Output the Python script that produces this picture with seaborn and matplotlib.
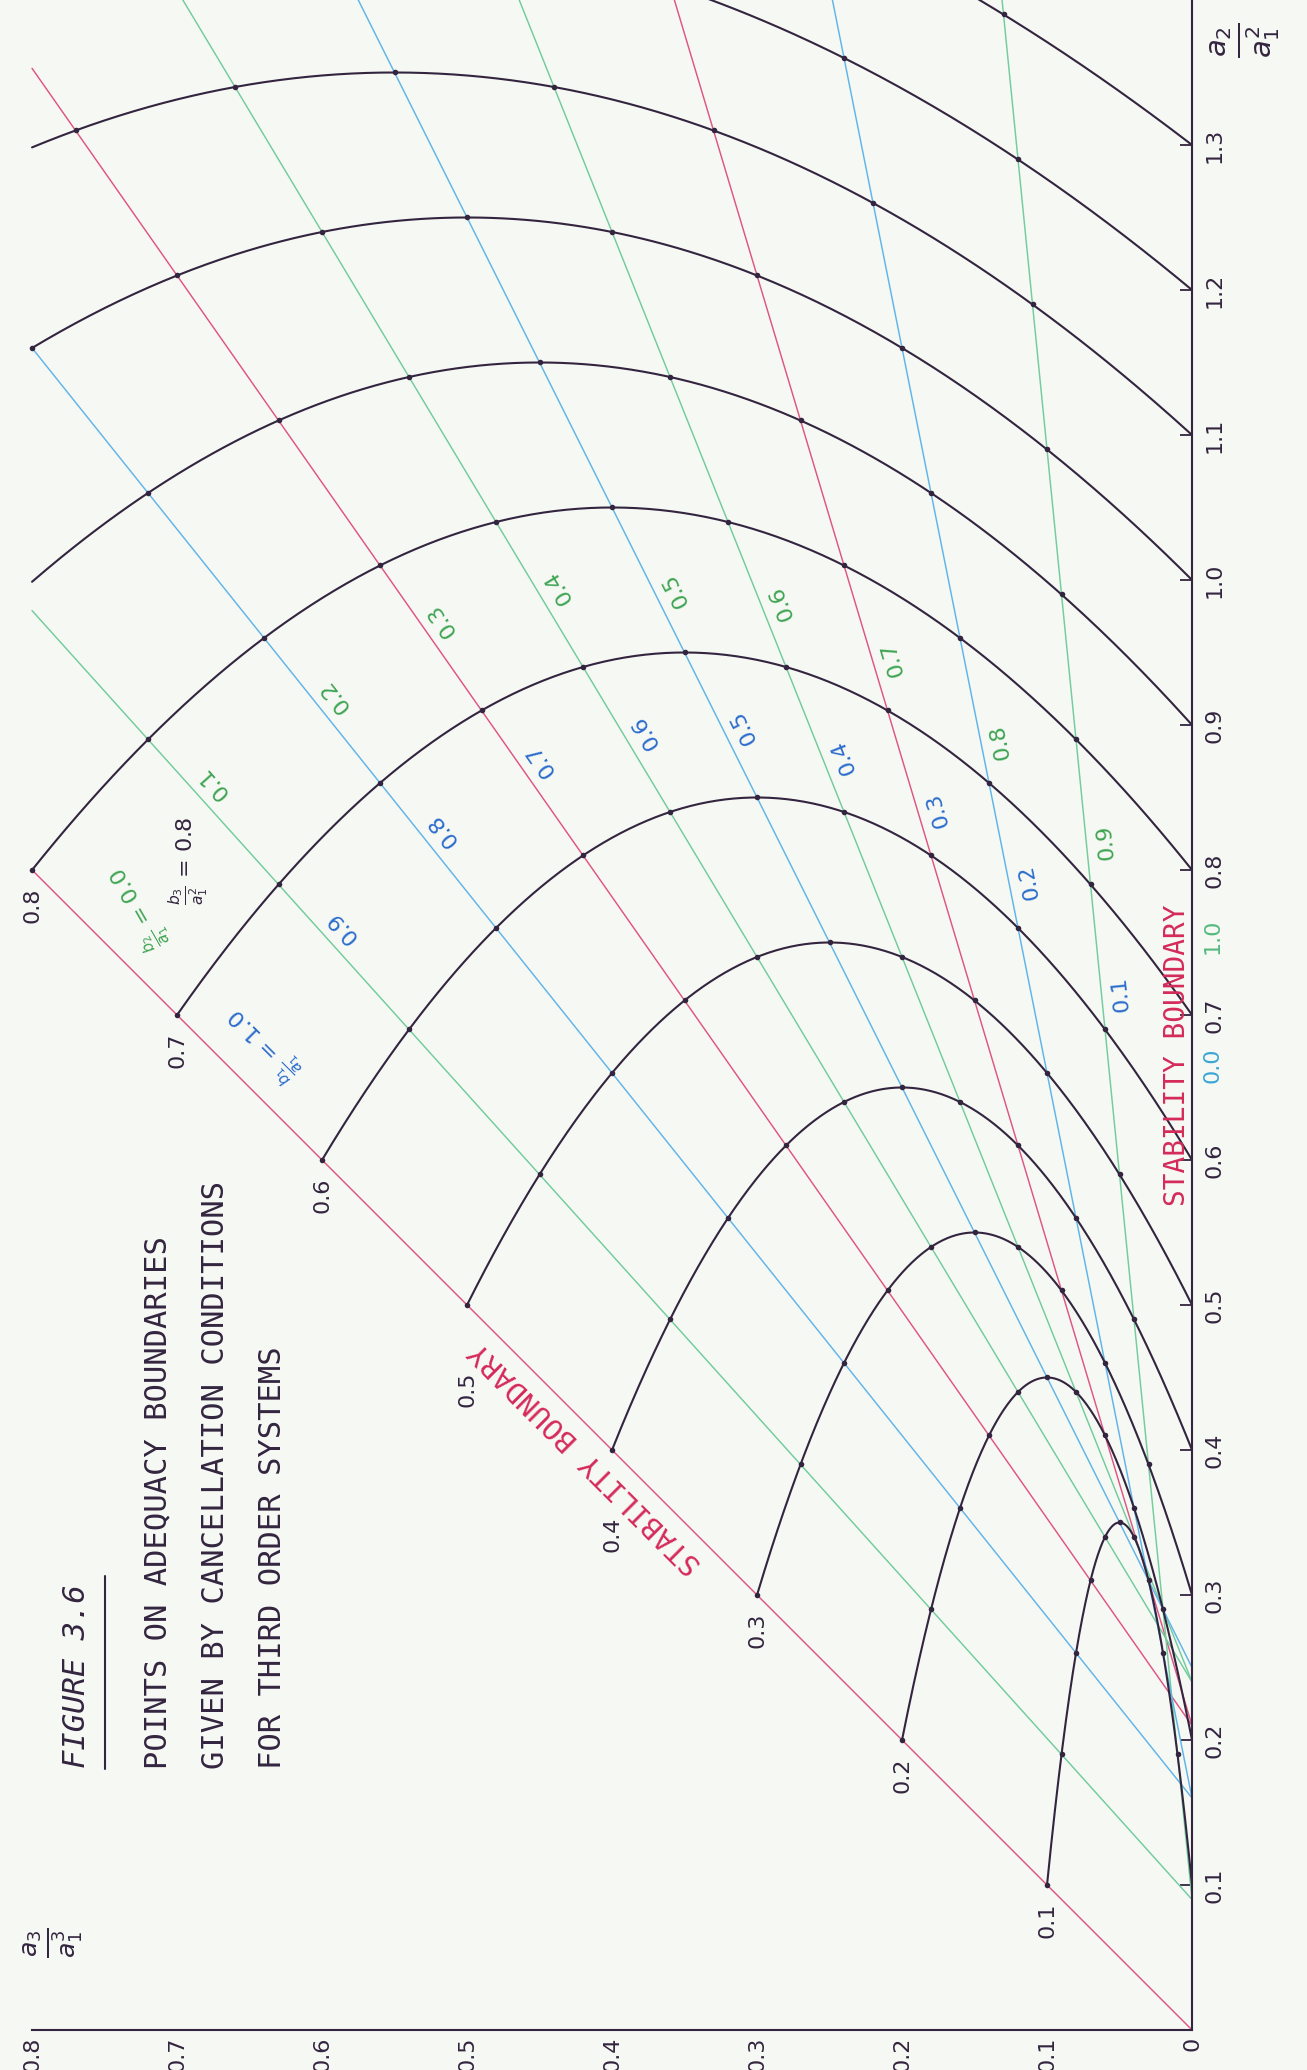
import numpy as np
import pandas as pd
import matplotlib
matplotlib.use("Agg")
import matplotlib.pyplot as plt
import seaborn as sns
from matplotlib.transforms import offset_copy

# ---------------------------------------------------------------------------
# Chart values
# Normalised cubic  s^3 + s^2 + (a2/a1^2) s + (a3/a1^3)  factorised as
# (s + b1/a1)(s^2 + (b2/a1) s + b3/a1^2)  with  b2/a1 = 1 - b1/a1.
# ---------------------------------------------------------------------------
b1_values = [1.0, 0.9, 0.8, 0.7, 0.6, 0.5, 0.4, 0.3, 0.2, 0.1, 0.0]
b1_colours = ["red", "green", "blue", "red", "green", "blue",
              "green", "red", "blue", "green", "axis"]
b1_labels = ["1.0", "0.9", "0.8", "0.7", "0.6", "0.5", "0.4", "0.3", "0.2", "0.1", "0.0"]
b2_labels = ["0.0", "0.1", "0.2", "0.3", "0.4", "0.5", "0.6", "0.7", "0.8", "0.9", "1.0"]

b3_levels = [0.1, 0.2, 0.3, 0.4, 0.5, 0.6, 0.7, 0.8, 0.9, 1.0, 1.1, 1.2, 1.3]
b3_edge_labels = ["0.1", "0.2", "0.3", "0.4", "0.5", "0.6", "0.7", "0.8"]

a2_ticks = [0.1, 0.2, 0.3, 0.4, 0.5, 0.6, 0.7, 0.8, 0.9, 1.0, 1.1, 1.2, 1.3]
a2_ticklabels = ["0.1", "0.2", "0.3", "0.4", "0.5", "0.6", "0.7",
                 "0.8", "0.9", "1.0", "1.1", "1.2", "1.3"]
a3_ticks = [0.0, 0.1, 0.2, 0.3, 0.4, 0.5, 0.6, 0.7, 0.8]
a3_ticklabels = ["0", "0.1", "0.2", "0.3", "0.4", "0.5", "0.6", "0.7", "0.8"]

title_lines = ["POINTS ON ADEQUACY BOUNDARIES",
               "GIVEN BY CANCELLATION CONDITIONS",
               "FOR THIRD ORDER SYSTEMS"]

# ---------------------------------------------------------------------------
# Layout: where each scale label sits along its line (as a b3/a1^2 position)
b1_label_at = [0.660, 0.662, 0.659, 0.658, 0.648, 0.643, 0.633, 0.628, 0.629, 0.623, 0.665]
b2_label_at = [0.753, 0.761, 0.752, 0.755, 0.748, 0.737, 0.739, 0.732, 0.726, 0.728, 0.754]

A3_MAX = 0.8     # plotting field ends at a3/a1^3 = 0.8
A2_MAX = 1.40

palette = {"red": "#df5584", "green": "#72cc9c", "blue": "#5fb4ea"}
text_green = "#3ea452"
text_blue = "#2a6ccc"
text_red = "#d42a5a"
ink = "#33243f"
paper = "#f6f8f3"
mono = ["DejaVu Sans Mono"]

sns.set_theme(style="white")
plt.rcParams["font.family"] = ["DejaVu Sans"]
plt.rcParams["mathtext.fontset"] = "dejavusans"


def point(p, q):
    """(a3/a1^3, a2/a1^2) for real root p and quadratic constant q."""
    p = np.asarray(p, dtype=float)
    q = np.asarray(q, dtype=float)
    return p * q, q + p * (1.0 - p)


# straight lines of constant b1/a1
rows = []
for i, (p, key) in enumerate(zip(b1_values, b1_colours)):
    if key == "axis":
        continue
    q_end = min(A3_MAX / p, A2_MAX + 0.1)
    q = np.linspace(0.0, q_end, 200)
    a3, a2 = point(p, q)
    rows.append(pd.DataFrame({"a3": a3, "a2": a2, "line": i, "colour": key}))
lines = pd.concat(rows, ignore_index=True)

# curves of constant b3/a1^2
rows = []
for j, q in enumerate(b3_levels):
    p_hi = min(1.0, A3_MAX / q)
    p = np.linspace(p_hi, 0.0, 400)
    a3, a2 = point(p, q)
    rows.append(pd.DataFrame({"a3": a3, "a2": a2, "level": j}))
arcs = pd.concat(rows, ignore_index=True)

# plotted points where the two families cross
rows = []
for q in b3_levels:
    for p in b1_values:
        if p == 0.0:
            continue
        a3, a2 = point(p, q)
        if a3 <= A3_MAX + 1e-9 and a2 <= A2_MAX:
            rows.append({"a3": float(a3), "a2": float(a2)})
dots = pd.DataFrame(rows)

# ---------------------------------------------------------------------------
fig = plt.figure(figsize=(13.07, 20.70), dpi=100, facecolor=paper)
ax = fig.add_axes([0, 0, 1, 1], facecolor=paper)
ax.set_xlim(0.8221, -0.0793)
ax.set_ylim(-0.0276, 1.40)

sns.lineplot(data=lines, x="a3", y="a2", hue="colour", units="line",
             estimator=None, sort=False, palette=palette, lw=1.05,
             legend=False, ax=ax)
sns.lineplot(data=arcs, x="a3", y="a2", units="level", estimator=None,
             sort=False, color=ink, lw=1.5, legend=False, ax=ax)
sns.scatterplot(data=dots, x="a3", y="a2", color=ink, s=16, linewidth=0,
                legend=False, ax=ax, zorder=5)

# axes: a2/a1^2 along a3 = 0, a3/a1^3 along a2 = 0
for side in ("top", "left"):
    ax.spines[side].set_visible(False)
ax.spines["right"].set_position(("data", 0.0))
ax.spines["right"].set_bounds(0.0, A2_MAX)
ax.spines["bottom"].set_position(("data", 0.0))
ax.spines["bottom"].set_bounds(0.0, A3_MAX)
for side in ("right", "bottom"):
    ax.spines[side].set_color(ink)
    ax.spines[side].set_linewidth(1.5)

ax.yaxis.set_ticks_position("right")
ax.set_yticks(a2_ticks, a2_ticklabels)
ax.set_xticks(a3_ticks, a3_ticklabels)
ax.tick_params(axis="y", direction="in", length=9, width=1.3, color=ink,
               labelcolor=ink, labelsize=16, labelrotation=90, pad=9)
ax.tick_params(axis="x", direction="in", length=9, width=1.3, color=ink,
               labelcolor=ink, labelsize=16, labelrotation=90, pad=5)
for lab in ax.get_yticklabels():
    lab.set_va("center")
ax.set_xlabel("")
ax.set_ylabel("")
ax.grid(False)

ax.text(-0.0366, 1.372, r"$\frac{a_2}{a_1^2}$", rotation=90, ha="center",
        va="center", fontsize=30, color=ink)
ax.text(0.7855, 0.0600, r"$\frac{a_3}{a_1^3}$", rotation=90, ha="center",
        va="center", fontsize=26, color=ink)

# labels where the b3 curves meet the stability boundary
for lab, q in zip(b3_edge_labels, b3_levels):
    dy = -48 if lab in ("0.4", "0.5") else -13
    tr = offset_copy(ax.transData, fig=fig, x=0, y=dy, units="points")
    ax.text(q, q, lab, transform=tr, rotation=90, ha="center", va="top",
            fontsize=16, color=ink)
ax.text(0.692, 0.806, r"$\frac{b_3}{a_1^2}$ = 0.8", rotation=90, ha="center",
        va="center", fontsize=16, color=ink)

# scale labels on the straight lines
for p, l1, l2, q1, q2 in zip(b1_values, b1_labels, b2_labels, b1_label_at, b2_label_at):
    ang = np.arctan(p)
    rot = 90 + np.degrees(ang)
    ux, uy = np.cos(ang), np.sin(ang)
    c1, c2 = text_blue, text_green
    if p == 1.0:
        a3, a2 = point(p, q1)
        tr = offset_copy(ax.transData, fig=fig, x=30 * ux, y=30 * uy, units="points")
        ax.text(a3, a2, r"$\frac{b_1}{a_1}$ = " + l1, transform=tr, rotation=rot,
                rotation_mode="anchor", ha="center", va="center",
                fontsize=16, color=c1)
        ax.text(0.7265, 0.774, r"$\frac{b_2}{a_1}$ = " + l2, rotation=120,
                rotation_mode="anchor", ha="center", va="center",
                fontsize=16, color=c2)
        continue
    if p == 0.0:
        d = 15
        c1, c2 = "#3aa6d6", "#55b97e"
    else:
        d = 14
    for q, txt, col in ((q1, l1, c1), (q2, l2, c2)):
        a3, a2 = point(p, q)
        tr = offset_copy(ax.transData, fig=fig, x=d * ux, y=d * uy, units="points")
        ax.text(a3, a2, txt, transform=tr, rotation=rot, rotation_mode="anchor",
                ha="center", va="center", fontsize=16, color=col)

# stability boundaries
ax.text(0.418, 0.395, "STABILITY BOUNDARY", rotation=135, rotation_mode="anchor",
        ha="center", va="center", fontsize=21, color=text_red, family=mono)
ax.text(0.0103, 0.672, "STABILITY BOUNDARY", rotation=90, rotation_mode="anchor",
        ha="center", va="center", fontsize=20, color=text_red, family=mono)

# caption block
ax.text(0.769, 0.181, "FIGURE 3.6", rotation=90, rotation_mode="anchor",
        ha="left", va="center", fontsize=22, style="italic", color=ink,
        family=mono)
ax.plot([0.7497, 0.7497], [0.180, 0.313], color=ink, lw=1.5)
for k, line in enumerate(title_lines):
    ax.text(0.713 - 0.0395 * k, 0.180, line, rotation=90, rotation_mode="anchor",
            ha="left", va="center", fontsize=22, color=ink, family=mono)

fig.savefig("out.png", dpi=100, facecolor=paper)
